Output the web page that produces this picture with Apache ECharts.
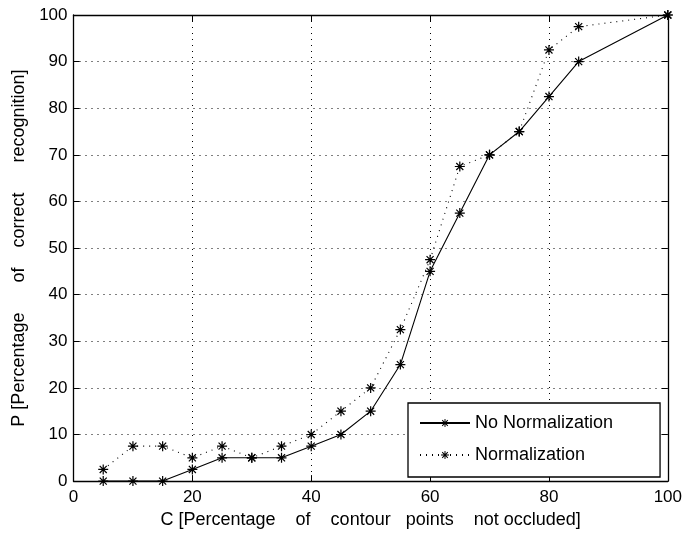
<!DOCTYPE html>
<html>
<head>
<meta charset="utf-8">
<style>
  html, body { margin: 0; padding: 0; background: #fff; }
  #chart { width: 685px; height: 534px; }
</style>
<script src="https://cdn.jsdelivr.net/npm/echarts@6/dist/echarts.min.js"></script>
</head>
<body>
<div id="chart"></div>
<script>
// Percentage of contour points not occluded (x values shared by both curves)
const contourPct = [5, 10, 15, 20, 25, 30, 35, 40, 45, 50, 55, 60, 65, 70, 75, 80, 85, 100];
// Recognition rate without normalization
const noNormalization = [0, 0, 0, 2.5, 5, 5, 5, 7.5, 10, 15, 25, 45, 57.5, 70, 75, 82.5, 90, 100];
// Recognition rate with normalization
const normalization = [2.5, 7.5, 7.5, 5, 7.5, 5, 7.5, 10, 15, 20, 32.5, 47.5, 67.5, 70, 75, 92.5, 97.5, 100];

const xTicks = [0, 20, 40, 60, 80, 100];
const yTicks = [0, 10, 20, 30, 40, 50, 60, 70, 80, 90, 100];

const seriesNames = ['No Normalization', 'Normalization'];
const xTitle = 'C [Percentage    of    contour   points    not occluded]';
const yTitle = 'P [Percentage      of    correct      recognition]';

// Eight-armed asterisk marker built from thin bars
const asterisk = 'path://M0,8.8L20,8.8L20,11.2L0,11.2Z M8.8,0L11.2,0L11.2,20L8.8,20Z ' +
  'M2.1,3.8L3.8,2.1L17.9,16.2L16.2,17.9Z M16.2,2.1L17.9,3.8L3.8,17.9L2.1,16.2Z';

const FONT = 'Liberation Sans, Arial, Helvetica, sans-serif';
const toPairs = (xs, ys) => xs.map((x, i) => [x, ys[i]]);

const dotted = { color: '#000', width: 1, type: [1, 5] };
const frameAxis = {
  axisLine: { show: true, onZero: false, lineStyle: { color: '#000', width: 1.3 } },
  axisTick: { show: true, inside: true, length: 6, lineStyle: { color: '#000', width: 1 } },
};

const chart = echarts.init(document.getElementById('chart'), null, { renderer: 'canvas' });
chart.setOption({
  animation: false,
  backgroundColor: '#fff',
  textStyle: { fontFamily: FONT },
  grid: { left: 73.5, right: 14, top: 15, bottom: 47 },
  xAxis: [
    Object.assign({
      type: 'value', min: 0, max: 100, interval: 20, position: 'bottom',
      name: xTitle, nameLocation: 'middle', nameGap: 17,
      nameTextStyle: { color: '#000', fontSize: 18, fontFamily: FONT },
      axisLabel: { color: '#000', fontSize: 17, fontFamily: FONT, margin: 8,
        formatter: v => xTicks.includes(v) ? String(v) : '' },
      splitLine: { show: true, lineStyle: dotted },
    }, frameAxis),
    Object.assign({
      type: 'value', min: 0, max: 100, interval: 20, position: 'top',
      axisLabel: { show: false }, splitLine: { show: false },
    }, frameAxis),
  ],
  yAxis: [
    Object.assign({
      type: 'value', min: 0, max: 100, interval: 10, position: 'left',
      name: yTitle, nameLocation: 'middle', nameGap: 44,
      nameTextStyle: { color: '#000', fontSize: 18, fontFamily: FONT },
      axisLabel: { color: '#000', fontSize: 17, fontFamily: FONT, margin: 6,
        formatter: v => yTicks.includes(v) ? String(v) : '' },
      splitLine: { show: true, lineStyle: dotted },
    }, frameAxis),
    Object.assign({
      type: 'value', min: 0, max: 100, interval: 10, position: 'right',
      axisLabel: { show: false }, splitLine: { show: false },
    }, frameAxis),
  ],
  legend: {
    orient: 'vertical',
    left: 408, top: 403,
    padding: [11, 47, 13, 11],
    itemWidth: 50, itemHeight: 10, itemGap: 14,
    backgroundColor: '#fff',
    borderColor: '#000', borderWidth: 1.3, borderRadius: 0,
    textStyle: { color: '#000', fontSize: 18, fontFamily: FONT },
    data: seriesNames,
  },
  series: [
    {
      name: seriesNames[0], type: 'line',
      data: toPairs(contourPct, noNormalization),
      symbol: asterisk, symbolSize: 10,
      itemStyle: { color: '#000' },
      lineStyle: { color: '#000', width: 1.1, type: 'solid' },
      z: 3,
    },
    {
      name: seriesNames[1], type: 'line',
      data: toPairs(contourPct, normalization),
      symbol: asterisk, symbolSize: 10,
      itemStyle: { color: '#000' },
      lineStyle: { color: '#000', width: 1.1, type: [1, 5] },
      z: 2,
    },
  ],
});
</script>
</body>
</html>
